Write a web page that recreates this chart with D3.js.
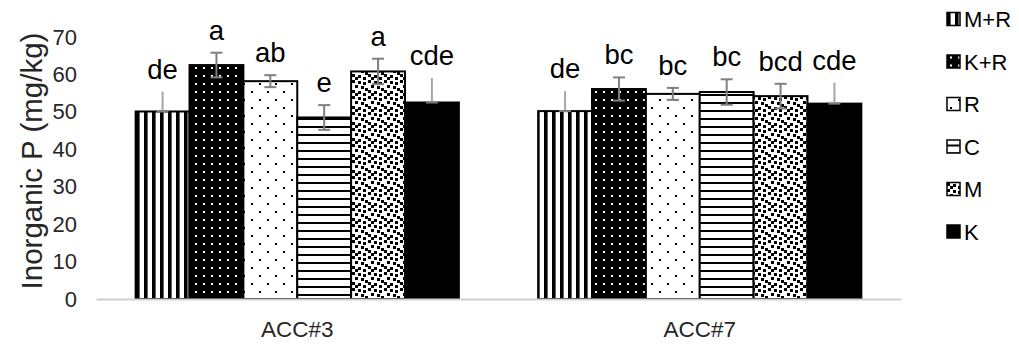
<!DOCTYPE html>
<html>
<head>
<meta charset="utf-8">
<script src="https://cdn.jsdelivr.net/npm/d3@7/dist/d3.min.js"></script>
<style>
  body { margin: 0; background: #fff; }
  svg text { font-family: "Liberation Sans", Arial, sans-serif; }
</style>
</head>
<body>
<div id="chart"></div>
<script>
// data
const groups = [`ACC#3`, `ACC#7`];
const series = [`M+R`, `K+R`, `R`, `C`, `M`, `K`];
const valuesAcc3 = [50.1, 62.5, 58.2, 48.5, 60.8, 52.5];
const valuesAcc7 = [50.2, 56.1, 54.8, 55.3, 54.2, 52.2];
const errAcc3 = [5.3, 3.3, 1.6, 3.3, 3.4, 6.5];
const errAcc7 = [5.3, 3.1, 1.6, 3.4, 3.3, 5.6];
const lettersAcc3 = [`de`, `a`, `ab`, `e`, `a`, `cde`];
const lettersAcc7 = [`de`, `bc`, `bc`, `bc`, `bcd`, `cde`];
const yTicks = [0, 10, 20, 30, 40, 50, 60, 70];
const yTitle = `Inorganic P (mg/kg)`;

const W = 1019, H = 344;
const rows = [];
groups.forEach((g, gi) => {
    const vals = gi === 0 ? valuesAcc3 : valuesAcc7;
    const errs = gi === 0 ? errAcc3 : errAcc7;
    const lets = gi === 0 ? lettersAcc3 : lettersAcc7;
    series.forEach((s, si) => rows.push({ group: g, series: s, value: vals[si], err: errs[si], letter: lets[si] }));
});

const svg = d3.select(`#chart`).append(`svg`).attr(`width`, W).attr(`height`, H);

// fill patterns, one per series
const defs = svg.append(`defs`);
let p;
p = defs.append(`pattern`).attr(`id`, `pat0`).attr(`patternUnits`, `userSpaceOnUse`).attr(`width`, 8).attr(`height`, 8);
p.append(`rect`).attr(`width`, 8).attr(`height`, 8).attr(`fill`, `#fff`);
p.append(`rect`).attr(`width`, 3.6).attr(`height`, 8).attr(`fill`, `#000`);

p = defs.append(`pattern`).attr(`id`, `pat1`).attr(`patternUnits`, `userSpaceOnUse`).attr(`width`, 8).attr(`height`, 8);
p.append(`rect`).attr(`width`, 8).attr(`height`, 8).attr(`fill`, `#000`);
p.append(`rect`).attr(`x`, 3).attr(`y`, 3).attr(`width`, 2).attr(`height`, 2).attr(`fill`, `#fff`);

p = defs.append(`pattern`).attr(`id`, `pat2`).attr(`patternUnits`, `userSpaceOnUse`).attr(`width`, 16).attr(`height`, 16);
p.append(`rect`).attr(`width`, 16).attr(`height`, 16).attr(`fill`, `#fff`);
p.append(`rect`).attr(`x`, 3).attr(`y`, 3).attr(`width`, 2).attr(`height`, 2).attr(`fill`, `#000`);
p.append(`rect`).attr(`x`, 11).attr(`y`, 11).attr(`width`, 2).attr(`height`, 2).attr(`fill`, `#000`);

p = defs.append(`pattern`).attr(`id`, `pat3`).attr(`patternUnits`, `userSpaceOnUse`).attr(`width`, 8).attr(`height`, 8);
p.append(`rect`).attr(`width`, 8).attr(`height`, 8).attr(`fill`, `#fff`);
p.append(`rect`).attr(`y`, 6).attr(`width`, 8).attr(`height`, 2).attr(`fill`, `#000`);

p = defs.append(`pattern`).attr(`id`, `pat4`).attr(`patternUnits`, `userSpaceOnUse`).attr(`width`, 16).attr(`height`, 16);
p.append(`rect`).attr(`width`, 16).attr(`height`, 16).attr(`fill`, `#fff`);
[[0, 0], [6, 1], [11, 2], [3, 5], [9, 6], [13, 8], [0, 10], [6, 11], [11, 13], [3, 13]].forEach(q => {
    p.append(`rect`).attr(`x`, q[0]).attr(`y`, q[1]).attr(`width`, 3).attr(`height`, 3).attr(`fill`, `#000`);
});

p = defs.append(`pattern`).attr(`id`, `pat5`).attr(`patternUnits`, `userSpaceOnUse`).attr(`width`, 8).attr(`height`, 8);
p.append(`rect`).attr(`width`, 8).attr(`height`, 8).attr(`fill`, `#000`);

const fillOf = s => `url(#pat${series.indexOf(s)})`;
const oneSided = s => s === `M+R` || s === `K`;

// scales
const x0 = d3.scaleBand().domain(groups).range([96, 901]).paddingInner(0.197).paddingOuter(0.0985);
const x1 = d3.scaleBand().domain(series).range([0, x0.bandwidth()]);
const y = d3.scaleLinear().domain([0, 70]).range([299, 37]);

// y axis (labels only)
const yAxis = svg.append(`g`).attr(`transform`, `translate(77,0)`)
    .call(d3.axisLeft(y).tickValues(yTicks).tickSize(0).tickPadding(0));
yAxis.select(`.domain`).remove();
yAxis.selectAll(`text`).attr(`font-size`, 22).attr(`fill`, `#262626`)
    .attr(`font-family`, `"Liberation Sans", Arial, sans-serif`);

svg.append(`text`)
    .attr(`transform`, `translate(42,161) rotate(-90)`)
    .attr(`text-anchor`, `middle`)
    .attr(`font-size`, 29.5)
    .attr(`fill`, `#262626`)
    .text(yTitle);

// bars
const g = svg.append(`g`);
g.selectAll(`.bar`)
    .data(rows)
    .enter().append(`rect`)
    .attr(`class`, `bar`)
    .attr(`x`, d => x0(d.group) + x1(d.series))
    .attr(`y`, d => y(d.value))
    .attr(`width`, x1.bandwidth())
    .attr(`height`, d => y(0) - y(d.value))
    .attr(`fill`, d => fillOf(d.series))
    .attr(`stroke`, `#000`)
    .attr(`stroke-width`, 2);

// x axis baseline
const xAxis = svg.append(`g`).attr(`transform`, `translate(0,${y(0)})`)
    .call(d3.axisBottom(x0).tickSize(0).tickPadding(22));
xAxis.select(`.domain`).attr(`stroke`, `#d0d0d0`).attr(`stroke-width`, 2);
xAxis.selectAll(`text`).attr(`font-size`, 22.5).attr(`fill`, `#262626`)
    .attr(`font-family`, `"Liberation Sans", Arial, sans-serif`);

// error bars
const cx = d => x0(d.group) + x1(d.series) + x1.bandwidth() / 2;
const eb = g.selectAll(`.err`).data(rows).enter().append(`g`).attr(`class`, `err`);
eb.append(`line`)
    .attr(`x1`, cx).attr(`x2`, cx)
    .attr(`y1`, d => y(oneSided(d.series) ? d.value : d.value - d.err))
    .attr(`y2`, d => y(d.value + d.err))
    .attr(`stroke`, d => oneSided(d.series) ? `#a6a6a6` : `#7f7f7f`)
    .attr(`stroke-width`, 2);
eb.filter(d => !oneSided(d.series)).append(`line`)
    .attr(`x1`, d => cx(d) - 6).attr(`x2`, d => cx(d) + 6)
    .attr(`y1`, d => y(d.value + d.err)).attr(`y2`, d => y(d.value + d.err))
    .attr(`stroke`, `#7f7f7f`).attr(`stroke-width`, 2);
eb.append(`line`)
    .attr(`x1`, d => cx(d) - 6).attr(`x2`, d => cx(d) + 6)
    .attr(`y1`, d => y(oneSided(d.series) ? d.value : d.value - d.err))
    .attr(`y2`, d => y(oneSided(d.series) ? d.value : d.value - d.err))
    .attr(`stroke`, `#7f7f7f`).attr(`stroke-width`, 2);

// significance letters
g.selectAll(`.letter`)
    .data(rows)
    .enter().append(`text`)
    .attr(`class`, `letter`)
    .attr(`x`, cx)
    .attr(`y`, d => y(d.value + d.err) - 13)
    .attr(`text-anchor`, `middle`)
    .attr(`font-size`, 27.5)
    .attr(`fill`, `#000`)
    .text(d => d.letter);

// legend
const ly = d3.scalePoint().domain(series).range([19, 231.5]);
const lg = svg.append(`g`).selectAll(`.leg`).data(series).enter().append(`g`).attr(`class`, `leg`)
    .attr(`transform`, d => `translate(947,${ly(d)})`);
lg.append(`rect`)
    .attr(`x`, 0).attr(`y`, -6.5).attr(`width`, 13).attr(`height`, 13)
    .attr(`fill`, d => fillOf(d)).attr(`stroke`, `#000`).attr(`stroke-width`, 1.5);
lg.append(`text`)
    .attr(`x`, 17).attr(`y`, 8)
    .attr(`font-size`, 22)
    .attr(`fill`, `#000`)
    .text(d => d);
</script>
</body>
</html>
